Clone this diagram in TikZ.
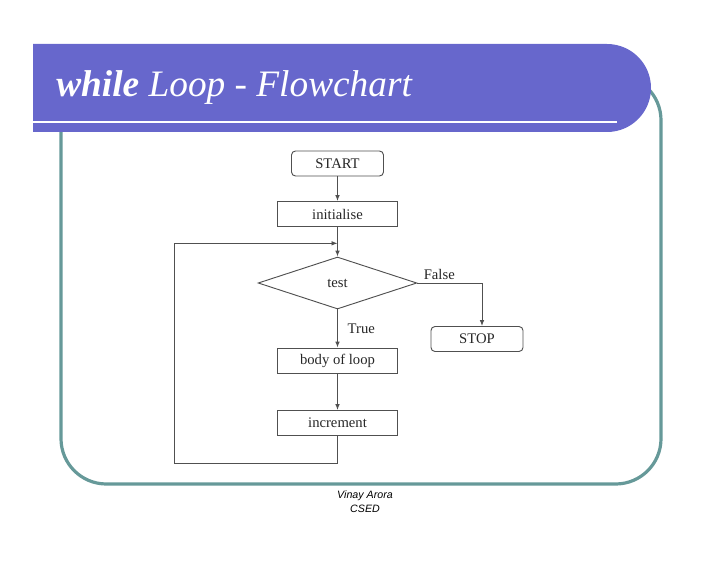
\documentclass[tikz,border=0pt]{standalone}
\usepackage{fontspec}
\setmainfont{Liberation Serif}
\setsansfont{Liberation Sans}
\usetikzlibrary{shapes.geometric,arrows.meta}
\definecolor{bannerblue}{RGB}{103,103,204}
\definecolor{frameteal}{RGB}{102,153,153}
\definecolor{flowgray}{RGB}{80,80,80}

\begin{document}
\begin{tikzpicture}[x=0.75pt,y=-0.75pt,
    box/.style={draw=flowgray,line width=0.7pt,minimum width=89.5pt,minimum height=18.75pt,inner sep=0pt,text=black!85,font=\fontsize{11}{13}\selectfont},
    term/.style={box,rounded corners=3pt,minimum width=69pt},
    flowline/.style={draw=flowgray,line width=0.7pt,-{Latex[length=4.5pt,width=3.5pt]}}]
    \useasboundingbox (0,0) rectangle (728,563);
    % slide frame and title bar
    \draw[frameteal,line width=2.4pt,rounded corners=34pt](61,75) rectangle (661,484);
    \fill[bannerblue](33,44)--(607,44) arc (-90:90:44)--(33,132)--cycle;
    \draw[white,line width=1.9pt](33,122)--(617,122);
    \node[anchor=base west,inner sep=0pt,white,font=\fontsize{28}{32}\selectfont\itshape] (title) at (56,97) {\textbf{while} Loop - Flowchart};
    % flowchart
    \node[term] (start) at (337.5,163.5) {START};
    \node[box] (init) at (337.5,214) {initialise};
    \node[diamond,draw=flowgray,line width=0.7pt,minimum width=119pt,minimum height=39pt,inner sep=0pt,text=black!85,font=\fontsize{11}{13}\selectfont] (test) at (337.5,283) {test};
    \node[term,minimum height=18.75pt] (stop) at (477,339) {STOP};
    \node[box] (body) at (337.5,360.5) {body of loop};
    \node[box] (incr) at (337.5,423) {increment};
    \coordinate (join) at (337.5,243.3);
    \coordinate (corner) at (174,463.3);
    \draw[flowline](start)--(init);
    \draw[flowline](init)--(test);
    \draw[flowline](test.east)-|node[pos=0.17,above,inner sep=2pt,text=black!85,font=\fontsize{11}{13}\selectfont]{False}([xshift=3.75pt]stop.north);
    \draw[flowline](test)--node[midway,right,xshift=4pt,text=black!85,font=\fontsize{11}{13}\selectfont]{True}(body);
    \draw[flowline](body)--(incr);
    \draw[flowline](incr)|-(corner)|-(join);
    % footer
    \node[align=center,font=\sffamily\itshape\fontsize{8}{10.5}\selectfont] (author) at (365,502) {Vinay Arora\\CSED};
  \end{tikzpicture}
\end{document}
